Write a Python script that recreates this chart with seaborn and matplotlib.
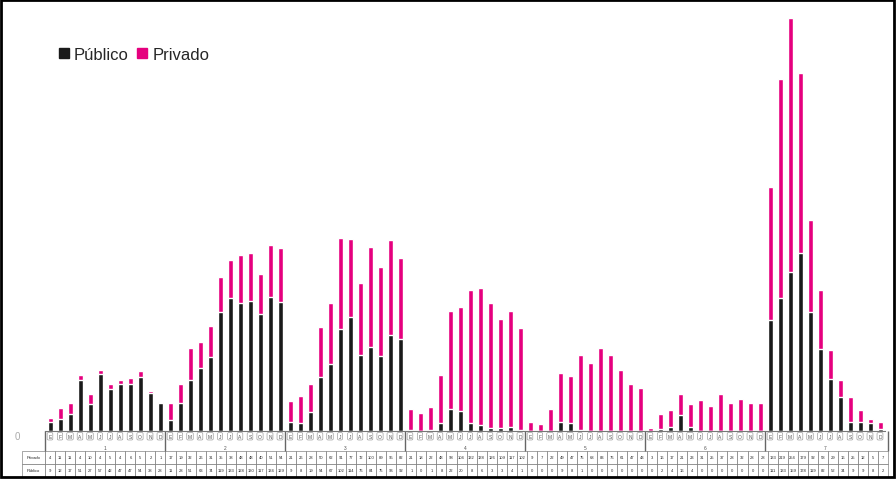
import numpy as np
import pandas as pd
import matplotlib.pyplot as plt
from matplotlib.patches import Patch, Rectangle
import seaborn as sns

# Set the style for seaborn
sns.set_style("white")
plt.rcParams['font.family'] = ['Liberation Sans', 'DejaVu Sans']

# Month labels (Spanish) and group labels
meses = ['E', 'F', 'M', 'A', 'M', 'J', 'J', 'A', 'S', 'O', 'N', 'D']
grupos = ['1', '2', '3', '4', '5', '6', '7']

# Values, 12 per group
publico = [9.0, 11.7, 17.3, 51.3, 27.0, 56.7, 42.3, 47.0, 47.0, 54.3, 37.7, 27.7,
           11.0, 27.7, 51.3, 63.3, 74.3, 119.0, 132.7, 128.3, 130.3, 116.7, 134.3, 129.3,
           9.0, 8.3, 19.0, 53.7, 66.7, 101.7, 114.3, 75.7, 84.3, 75.0, 95.7, 91.7,
           0.7, 0.0, 1.3, 8.3, 22.3, 20.0, 8.3, 5.7, 2.7, 3.3, 3.7, 1.0,
           0.0, 0.0, 0.0, 9.0, 8.3, 1.0, 0.0, 0.0, 0.0, 0.0, 0.0, 0.0,
           0.0, 1.7, 3.7, 16.3, 3.7, 0.0, 0.0, 0.0, 0.0, 0.0, 0.0, 0.0,
           111.0, 132.7, 159.0, 178.3, 119.3, 82.3, 51.7, 34.3, 9.0, 9.0, 7.7, 2.3]
privado = [3.7, 11.0, 10.7, 4.4, 10.0, 4.3, 4.7, 3.7, 6.3, 5.4, 2.0, 1.0,
           16.7, 19.0, 31.7, 26.0, 30.7, 35.3, 38.0, 48.0, 48.0, 40.3, 51.4, 54.0,
           21.0, 26.4, 27.7, 50.3, 61.6, 91.0, 77.4, 72.0, 99.7, 88.7, 95.3, 81.6,
           21.0, 18.3, 22.4, 47.7, 97.7, 104.0, 132.4, 137.6, 125.6, 109.0, 116.6, 102.0,
           9.0, 7.0, 21.7, 49.3, 46.7, 74.7, 68.3, 82.7, 75.7, 61.0, 47.3, 42.7,
           3.3, 15.6, 17.0, 20.7, 23.0, 31.0, 24.7, 37.3, 27.7, 32.3, 28.3, 27.7,
           133.3, 219.0, 254.3, 179.4, 91.7, 58.4, 29.0, 16.4, 25.3, 12.0, 4.6, 7.0]

pink = '#e5007e'
black = '#1a1a1a'

df = pd.DataFrame({'idx': np.arange(len(publico)), 'Público': publico, 'Privado': privado})
df['Total'] = df['Público'] + df['Privado']

fig = plt.figure(figsize=(8.96, 4.81), dpi=100)
ax = fig.add_axes([45 / 896, 1 - 432 / 481, 840 / 896, 422 / 481])

# Stacked bars: total in pink, public drawn on top in black
sns.barplot(data=df, x='idx', y='Total', color=pink, width=0.5, saturation=1, ax=ax)
sns.barplot(data=df, x='idx', y='Público', color=black, width=0.5, saturation=1, ax=ax)

ax.set_xlim(-0.5, len(publico) - 0.5)
ax.set_ylim(0, 422)
ax.set_xlabel('')
ax.set_ylabel('')

# Only the zero on the y axis
ax.set_yticks([0])
ax.set_yticklabels(['0'], fontsize=7, color='#aaaaaa', va='top')
ax.tick_params(axis='y', length=0, pad=18)

# Month tick labels in small boxes
ax.set_xticks(np.arange(len(publico)))
ax.set_xticklabels(meses * len(grupos), fontsize=3.5, color='#555555')
ax.tick_params(axis='x', length=0, pad=2)
for lab in ax.get_xticklabels():
    lab.set_bbox(dict(boxstyle='round,pad=0.25', fc='white', ec='#888888', lw=0.4))

for s in ['top', 'right', 'left']:
    ax.spines[s].set_visible(False)
ax.spines['bottom'].set_color('#777777')
ax.spines['bottom'].set_linewidth(0.8)

# Group separators and labels under the ticks
for k, g in enumerate(grupos):
    ax.vlines(12 * k - 0.5, -20, 0, color='#666666', lw=1, clip_on=False)
    ax.text(12 * k + 5.5, -16, g, fontsize=3.5, ha='center', va='center', color='#555555')
ax.vlines(len(publico) - 0.2, -20, 0, color='#666666', lw=1, clip_on=False)

# Data table below
cell_text = [['Privado'] + [f'{v:.0f}' for v in privado],
             ['Público'] + [f'{v:.0f}' for v in publico]]
widths = [23 / 866] + [10 / 866] * len(publico)
tab = ax.table(cellText=cell_text, colWidths=widths, cellLoc='center',
               bbox=[-23 / 840, -46 / 422, 866 / 840, 26 / 422])
tab.auto_set_font_size(False)
tab.set_fontsize(3)
for (r, c), cell in tab.get_celld().items():
    cell.set_linewidth(0.4)
    cell.set_edgecolor('#666666')

# Legend
handles = [Patch(color=black, label='Público'), Patch(color=pink, label='Privado')]
fig.legend(handles=handles, loc='upper left', bbox_to_anchor=(44 / 896, 1 - 33 / 481),
           ncol=2, frameon=False, fontsize=12, handlelength=0.6, handleheight=0.6,
           handletextpad=0.3, columnspacing=0.5)

# Outer frame
fig.patches.append(Rectangle((1 / 896, 3 / 481), 893 / 896, 477 / 481,
                             transform=fig.transFigure, fill=False, lw=2, ec='black'))

plt.savefig('out.png', dpi=100)
